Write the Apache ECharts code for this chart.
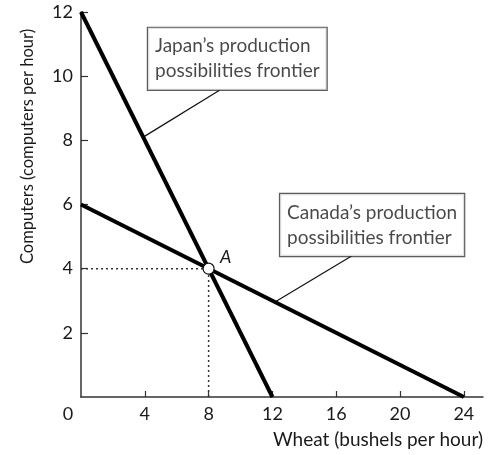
<!DOCTYPE html>
<html>
<head>
<meta charset="utf-8">
<script src="https://cdn.jsdelivr.net/npm/echarts@6/dist/echarts.min.js"></script>
<style>html,body{margin:0;padding:0;background:#fff}#c{width:495px;height:455px}</style>
</head>
<body>
<div id="c"></div>
<script>
// Data
const xTicks = [0, 4, 8, 12, 16, 20, 24];
const yTicks = [2, 4, 6, 8, 10, 12];
const japanPPF = [[0, 12], [12, 0]];
const canadaPPF = [[0, 6], [24, 0]];
const pointA = [8, 4];
const dropH = [[0, 4], [8, 4]];
const dropV = [[8, 0], [8, 4]];
const japanLeader = [[8.71, 9.57], [3.9, 8.1]];
const canadaLeader = [[16.99, 4.40], [12.16, 2.96]];
const japanBoxAt = [4.2, 10.54];
const canadaBoxAt = [12.48, 5.36];
const japanText = "Japan\u2019s production\npossibilities frontier";
const canadaText = "Canada\u2019s production\npossibilities frontier";

const FONT = 'Lato';
const chart = echarts.init(document.getElementById('c'), null, {renderer: 'canvas'});
const boxLabel = (txt) => ({
  show: true, position: 'inside', formatter: txt,
  fontFamily: FONT, fontSize: 19, lineHeight: 25, color: '#1a1a1a',
  backgroundColor: '#fff', borderColor: '#333', borderWidth: 1.2,
  padding: [6, 7, 6, 7], align: 'left', verticalAlign: 'middle'
});
chart.setOption({
  animation: false,
  grid: {left: 81, right: 12, top: 12, bottom: 58},
  xAxis: {
    type: 'value', min: 0, max: 25.2, interval: 4,
    name: 'Wheat (bushels per hour)', nameLocation: 'end', nameGap: 0,
    nameTextStyle: {fontFamily: FONT, fontSize: 19, color: '#1a1a1a', align: 'right', verticalAlign: 'top', padding: [33, 0, 0, 0]},
    axisLine: {lineStyle: {color: '#333', width: 1.5}},
    axisTick: {inside: true, length: 6, lineStyle: {color: '#333', width: 1.2}, customValues: xTicks.filter(v => v > 0)},
    axisLabel: {
      customValues: xTicks, margin: 8, fontFamily: FONT, fontSize: 18, color: '#1a1a1a',
      formatter: v => v === 0 ? '{z|0}' : String(v),
      rich: {z: {fontFamily: FONT, fontSize: 18, color: '#1a1a1a', padding: [0, 26, 0, 0]}}
    },
    splitLine: {show: false}
  },
  yAxis: {
    type: 'value', min: 0, max: 12, interval: 2,
    name: 'Computers (computers per hour)', nameLocation: 'middle', nameGap: 45,
    nameTextStyle: {fontFamily: FONT, fontSize: 16.5, color: '#1a1a1a', padding: [0, 0, 0, 116]},
    axisLine: {lineStyle: {color: '#333', width: 1.5}},
    axisTick: {inside: true, length: 7, lineStyle: {color: '#333', width: 1.2}, customValues: yTicks},
    axisLabel: {customValues: yTicks, margin: 8, fontFamily: FONT, fontSize: 18, color: '#1a1a1a'},
    splitLine: {show: false}
  },
  series: [
    {type: 'line', data: dropH, symbol: 'none', lineStyle: {color: '#333', width: 1.5, type: [2, 3]}, z: 1},
    {type: 'line', data: dropV, symbol: 'none', lineStyle: {color: '#333', width: 1.5, type: [2, 3]}, z: 1},
    {type: 'line', data: japanPPF, symbol: 'none', lineStyle: {color: '#000', width: 4}, z: 3},
    {type: 'line', data: canadaPPF, symbol: 'none', lineStyle: {color: '#000', width: 4}, z: 3},
    {type: 'line', data: japanLeader, symbol: 'none', lineStyle: {color: '#111', width: 1.2}, z: 2},
    {type: 'line', data: canadaLeader, symbol: 'none', lineStyle: {color: '#111', width: 1.2}, z: 2},
    {type: 'scatter', data: [pointA], symbol: 'circle', symbolSize: 11,
     itemStyle: {color: '#fff', borderColor: '#111', borderWidth: 1.2, opacity: 1}, z: 5,
     label: {show: true, formatter: 'A', position: 'inside', offset: [17, -11], fontFamily: FONT, fontStyle: 'italic', fontSize: 18, color: '#1a1a1a'}},
    {type: 'scatter', data: [japanBoxAt], symbolSize: 0, z: 6, label: boxLabel(japanText)},
    {type: 'scatter', data: [canadaBoxAt], symbolSize: 0, z: 6, label: boxLabel(canadaText)}
  ]
});
</script>
</body>
</html>
